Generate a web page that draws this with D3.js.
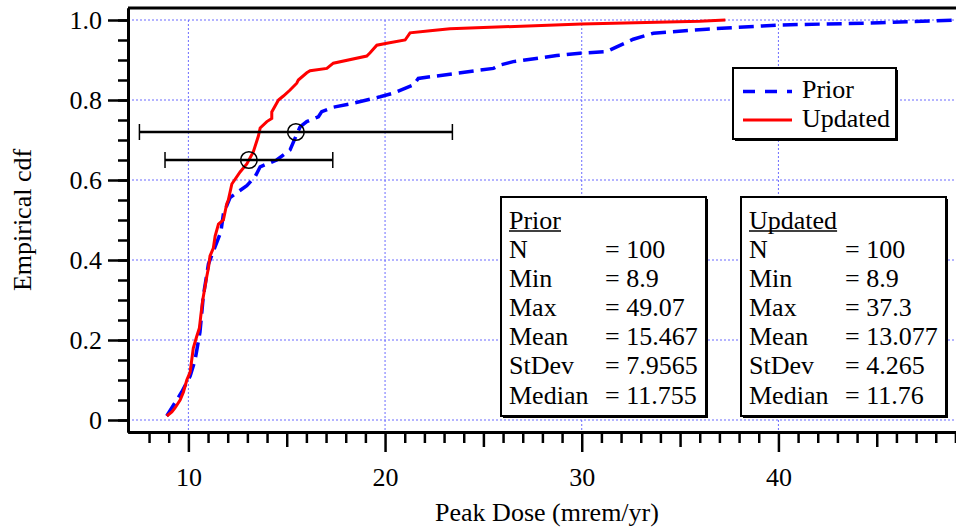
<!DOCTYPE html>
<html><head><meta charset="utf-8">
<script src="https://cdn.jsdelivr.net/npm/d3@7"></script>
<style>
body{margin:0;background:#fff}
svg{display:block}
text{font-family:"Liberation Serif","Times New Roman",serif;fill:#000}
</style>
</head><body>
<svg id="c" width="956" height="529"></svg>
<script>
// ---- data ----
const priorDose = [8.9, 9.66, 10.09, 10.34, 10.59, 10.76, 11.02, 11.65, 11.78, 12.12, 12.97, 13.39, 13.65, 14.49, 15.17, 15.42, 15.68, 16.02, 16.61, 16.78, 17.37, 18.22, 19.75, 20.42, 21.44, 21.69, 22.29, 25.51, 25.85, 26.52, 28.73, 29.91, 31.27, 31.78, 32.62, 33.64, 36.35, 40.08, 45.16, 49.07];
const priorCdf  = [0.01, 0.07, 0.11, 0.15, 0.22, 0.31, 0.39, 0.47, 0.515, 0.556, 0.586, 0.608, 0.633, 0.65, 0.675, 0.704, 0.733, 0.746, 0.758, 0.771, 0.782, 0.79, 0.808, 0.817, 0.8375, 0.854, 0.858, 0.879, 0.8875, 0.896, 0.911, 0.917, 0.921, 0.933, 0.952, 0.967, 0.977, 0.9875, 0.993, 1.0];
const updatedDose = [8.9, 9.16, 9.32, 9.58, 9.75, 9.92, 10.09, 10.17, 10.25, 10.43, 10.56, 10.63, 10.73, 10.80, 10.94, 11.02, 11.10, 11.27, 11.36, 11.53, 11.78, 11.95, 12.03, 12.21, 12.63, 12.97, 13.30, 13.56, 13.65, 13.99, 14.24, 14.24, 14.58, 14.83, 15.17, 15.51, 15.59, 16.02, 16.19, 17.04, 17.37, 19.07, 19.24, 19.58, 20.09, 21.02, 21.27, 22.29, 23.30, 30.0, 36.0, 37.3];
const updatedCdf  = [0.01, 0.02, 0.03, 0.05, 0.07, 0.10, 0.12, 0.15, 0.18, 0.21, 0.23, 0.26, 0.30, 0.32, 0.36, 0.38, 0.41, 0.43, 0.46, 0.49, 0.50, 0.54, 0.55, 0.59, 0.62, 0.64, 0.67, 0.71, 0.73, 0.746, 0.754, 0.77, 0.80, 0.81, 0.825, 0.842, 0.85, 0.868, 0.873, 0.879, 0.892, 0.91, 0.918, 0.937, 0.942, 0.95, 0.968, 0.973, 0.978, 0.99, 0.997, 1.0];

const seriesNames = ["Prior", "Updated"];
const seriesMeans = [15.467, 13.077];
const seriesStDevs = [7.9565, 4.265];
const seriesMeanCdf = [0.72, 0.65];

const xTickLabels = [10, 20, 30, 40];
const yTickLabels = [0, 0.2, 0.4, 0.6, 0.8, 1.0];

const statLabels = ["N", "Min", "Max", "Mean", "StDev", "Median"];
const priorStats = ["100", "8.9", "49.07", "15.467", "7.9565", "11.755"];
const updatedStats = ["100", "8.9", "37.3", "13.077", "4.265", "11.76"];

// ---- drawing ----
const FS = 26;
const svg = d3.select("#c");
const x = d3.scaleLinear().domain([6.93, 49.07]).range([128, 956.8]);
const y = d3.scaleLinear().domain([-0.03, 1.03]).range([432, 8]);

const colors = {Prior: "#0000ff", Updated: "#ff0000"};

// grid
const grid = svg.append("g").attr("stroke", "#6b6bff").attr("stroke-width", 1).attr("stroke-dasharray", "2,2");
grid.selectAll("line.v").data(xTickLabels).join("line")
  .attr("x1", d => x(d)).attr("x2", d => x(d)).attr("y1", y(1.0)).attr("y2", y(-0.03));
grid.selectAll("line.h").data(yTickLabels).join("line")
  .attr("x1", x(6.93)).attr("x2", 956).attr("y1", d => y(d)).attr("y2", d => y(d));

// top border
svg.append("line").attr("x1", 128).attr("x2", 956).attr("y1", y(1.03)).attr("y2", y(1.03))
  .attr("stroke", "#000").attr("stroke-width", 3);

// y axis
const yMinor = d3.range(0, 1.0001, 0.05).map(v => +v.toFixed(2));
const yAxisMinor = svg.append("g").attr("transform", `translate(${x(6.93)},0)`)
  .call(d3.axisLeft(y).tickValues(yMinor).tickSize(10).tickSizeOuter(0).tickFormat(""));
const yAxis = svg.append("g").attr("transform", `translate(${x(6.93)},0)`)
  .call(d3.axisLeft(y).tickValues(yTickLabels).tickSize(20).tickSizeOuter(0).tickPadding(6)
    .tickFormat(d => d === 0 ? "0" : d3.format(".1f")(d)));

// x axis
const xMinor = d3.range(8, 50).filter(v => v % 5 !== 0);
const xMid = d3.range(15, 50, 10);
svg.append("g").attr("transform", `translate(0,${y(-0.03)})`)
  .call(d3.axisBottom(x).tickValues(xMinor).tickSize(11).tickSizeOuter(0).tickFormat(""));
svg.append("g").attr("transform", `translate(0,${y(-0.03)})`)
  .call(d3.axisBottom(x).tickValues(xMid).tickSize(15).tickSizeOuter(0).tickFormat(""));
svg.append("g").attr("transform", `translate(0,${y(-0.03)})`)
  .call(d3.axisBottom(x).tickValues(xTickLabels).tickSize(20).tickSizeOuter(0).tickPadding(16).tickFormat(d3.format("d")));

svg.selectAll(".domain").attr("stroke", "#000").attr("stroke-width", 3);
svg.selectAll(".tick line").attr("stroke", "#000").attr("stroke-width", 2.5);
svg.selectAll(".tick text").attr("font-size", FS).attr("font-family", "Liberation Serif").attr("fill", "#000");

// axis titles
svg.append("text").attr("x", 547).attr("y", 521).attr("text-anchor", "middle").attr("font-size", FS)
  .text("Peak Dose (mrem/yr)");
svg.append("text").attr("transform", "translate(31,220) rotate(-90)").attr("text-anchor", "middle").attr("font-size", FS)
  .text("Empirical cdf");

// curves
const line = d3.line().x(d => x(d[0])).y(d => y(d[1]));
svg.append("path").datum(d3.zip(priorDose, priorCdf)).attr("d", line)
  .attr("fill", "none").attr("stroke", colors.Prior).attr("stroke-width", 3.5).attr("stroke-dasharray", "15,7");
svg.append("path").datum(d3.zip(updatedDose, updatedCdf)).attr("d", line)
  .attr("fill", "none").attr("stroke", colors.Updated).attr("stroke-width", 3);

// error bars and mean markers
seriesNames.forEach((s, i) => {
  const m = seriesMeans[i], sd = seriesStDevs[i], yc = y(seriesMeanCdf[i]);
  const g = svg.append("g").attr("stroke", "#000");
  g.append("line").attr("x1", x(m - sd)).attr("x2", x(m + sd)).attr("y1", yc).attr("y2", yc).attr("stroke-width", 2.5);
  [m - sd, m + sd].forEach(v => g.append("line").attr("x1", x(v)).attr("x2", x(v)).attr("y1", yc - 8).attr("y2", yc + 8).attr("stroke-width", 1.5));
  g.append("circle").attr("cx", x(m)).attr("cy", yc).attr("r", 8.3).attr("fill", "none").attr("stroke-width", 1.5);
});

// legend
function shadowBox(x0, y0, w, h) {
  svg.append("rect").attr("x", x0 + 2).attr("y", y0 + 2).attr("width", w).attr("height", h).attr("fill", "#000");
  svg.append("rect").attr("x", x0).attr("y", y0).attr("width", w).attr("height", h)
    .attr("fill", "#fff").attr("stroke", "#000").attr("stroke-width", 2);
}
shadowBox(733, 68, 163, 71);
const legendY = [91.5, 120];
seriesNames.forEach((s, i) => {
  svg.append("line").attr("x1", 743).attr("x2", 792).attr("y1", legendY[i]).attr("y2", legendY[i])
    .attr("stroke", colors[s]).attr("stroke-width", s === "Prior" ? 3.5 : 3)
    .attr("stroke-dasharray", s === "Prior" ? "12,10" : null);
  svg.append("text").attr("x", 802).attr("y", legendY[i] + 6.5).attr("font-size", FS).text(s);
});

// stats boxes
function statBox(x0, title, vals) {
  const y0 = 197, w = 205, h = 219;
  shadowBox(x0, y0, w, h);
  const t = svg.append("text").attr("x", x0 + 8).attr("y", y0 + 31.5).attr("font-size", FS).text(title);
  const tw = t.node().getComputedTextLength();
  svg.append("line").attr("x1", x0 + 8).attr("x2", x0 + 8 + tw).attr("y1", y0 + 34).attr("y2", y0 + 34)
    .attr("stroke", "#000").attr("stroke-width", 1.5);
  statLabels.forEach((lab, i) => {
    const yy = y0 + 61 + 29.1 * i;
    svg.append("text").attr("x", x0 + 8).attr("y", yy).attr("font-size", FS).text(lab);
    svg.append("text").attr("x", x0 + 104).attr("y", yy).attr("font-size", FS).text("= " + vals[i]);
  });
}
statBox(501, "Prior", priorStats);
statBox(741, "Updated", updatedStats);
</script>
</body></html>
